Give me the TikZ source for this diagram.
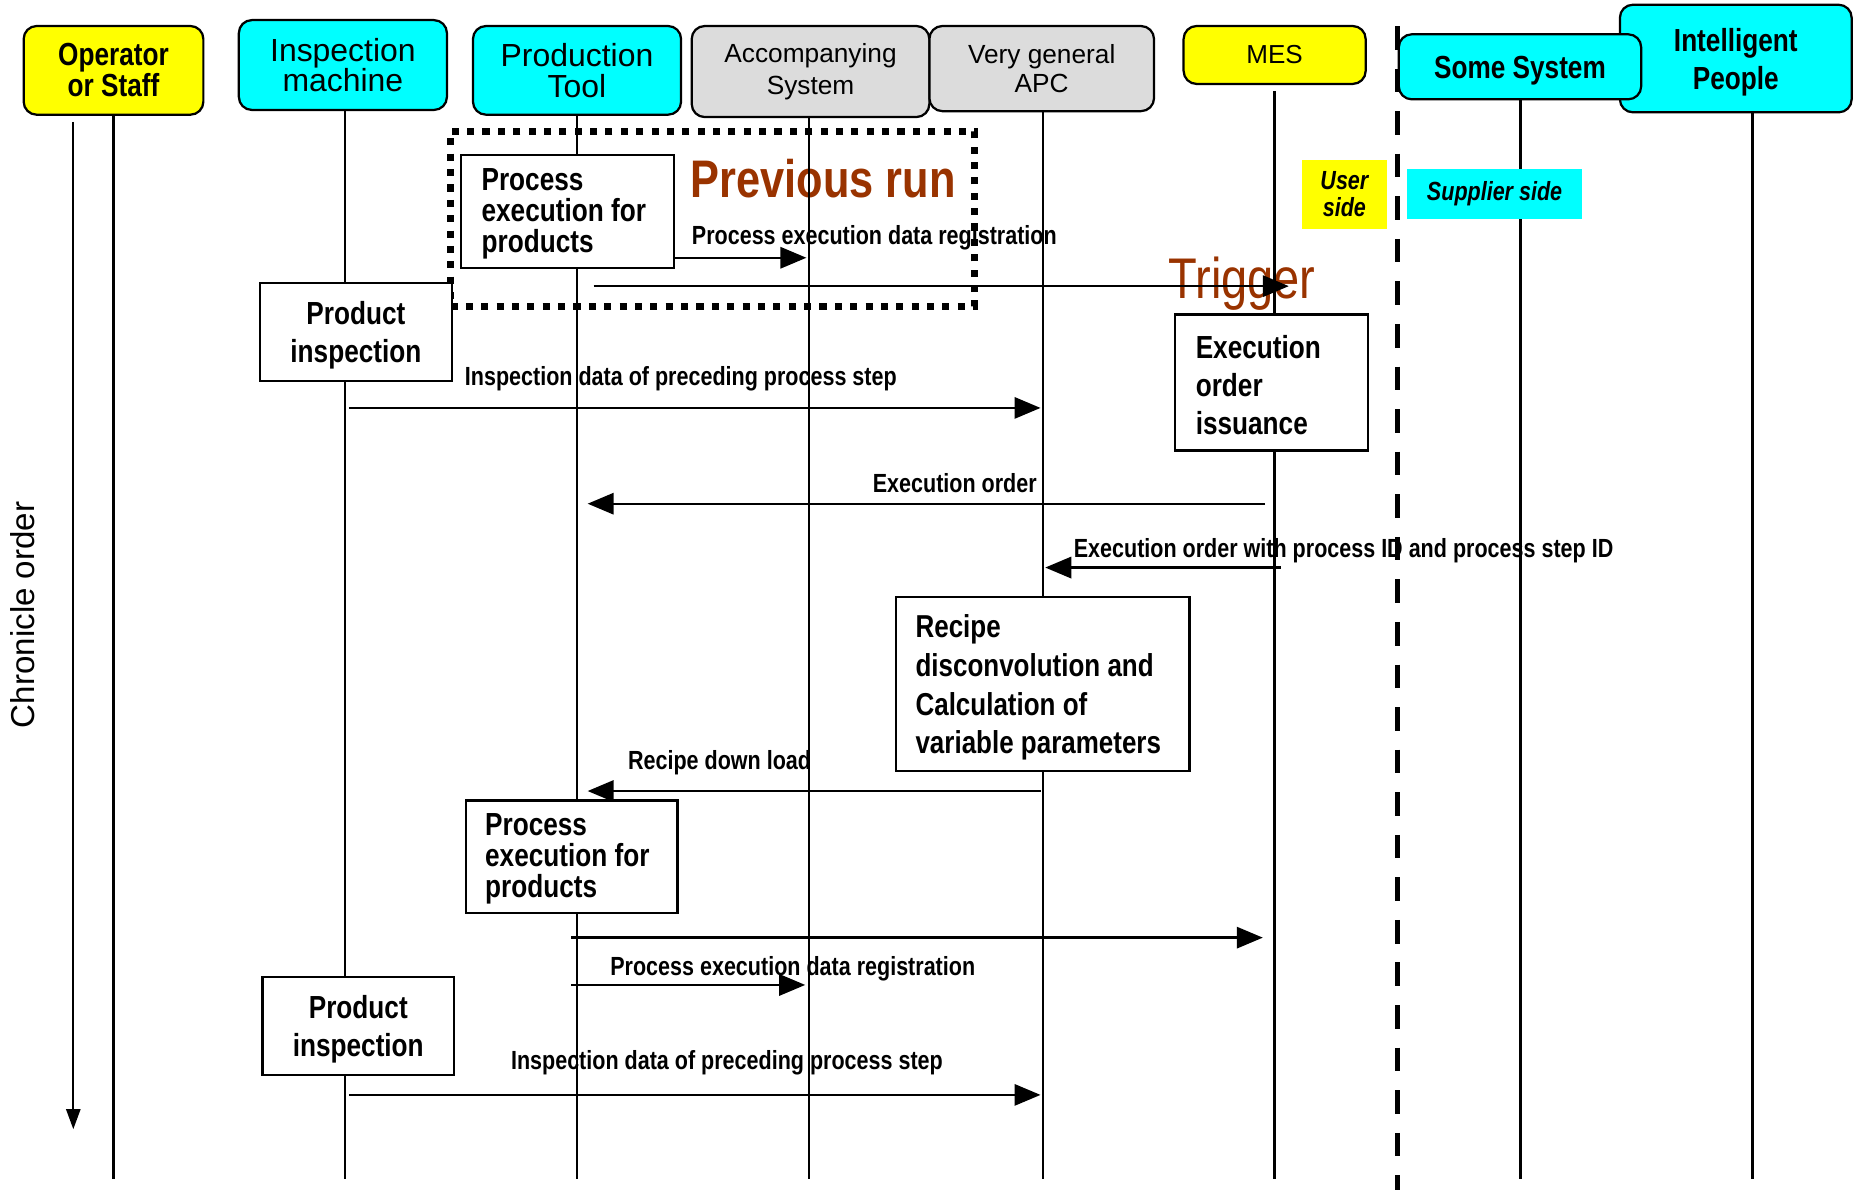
\documentclass[tikz,border=0pt]{standalone}
\usepackage{fontspec}
\setmainfont{Liberation Sans}
\newfontfamily\narrowsans{Liberation Sans}[FakeStretch=0.82]
\usetikzlibrary{arrows.meta}
\definecolor{hdryellow}{HTML}{FFFF00}
\definecolor{hdrcyan}{HTML}{00FFFF}
\definecolor{hdrgray}{HTML}{DCDCDC}
\definecolor{runbrown}{HTML}{993300}

\begin{document}
\begin{tikzpicture}[x=1pt,y=-1pt,
  hdrbox/.style={draw, line width=1.9pt, rounded corners=11pt, inner sep=0pt, align=center},
  nbold/.style={font=\narrowsans\bfseries\fontsize{27pt}{26pt}\selectfont},
  actbox/.style={draw, line width=1.8pt, fill=white, inner sep=0pt},
  acttext/.style={inner sep=0pt, align=left,
    font=\narrowsans\bfseries\fontsize{27pt}{26pt}\selectfont},
  lbl/.style={inner sep=0pt, font=\narrowsans\bfseries\fontsize{22.2pt}{24pt}\selectfont},
  bigword/.style={inner sep=0pt, text=runbrown},
  lifeline/.style={line width=2pt},
  msg/.style={line width=2pt, -{Triangle[length=22pt,width=18pt]}},
  tag/.style={inner sep=0pt, align=center, font=\narrowsans\bfseries\itshape\fontsize{22.2pt}{23pt}\selectfont}
]
\useasboundingbox (0,0) rectangle (1568,1006);

% ---------- free texts (drawn first, lines pass over them) ----------
\node[bigword, anchor=west, font=\narrowsans\bfseries\fontsize{44.7pt}{46pt}\selectfont]
  (prevlbl) at (584,151) {Previous run};
\node[bigword, anchor=west, font=\narrowsans\fontsize{48.5pt}{50pt}\selectfont]
  (triglbl) at (988,240) {Trigger};

\node[lbl, anchor=west] (l1) at (585,201) {Process execution data registration};
\node[lbl, anchor=west] (l2) at (393,320) {Inspection data of preceding process step};
\node[lbl, anchor=east] (l3) at (877,409) {Execution order};
\node[lbl, anchor=west] (l4) at (908,466) {Execution order with process ID and process step ID};
\node[lbl, anchor=west] (l5) at (531,645) {Recipe down load};
\node[lbl, anchor=west] (l6) at (516,819) {Process execution data registration};
\node[lbl, anchor=west] (l7) at (432,899) {Inspection data of preceding process step};

% ---------- time axis ----------
\node[rotate=90, inner sep=0pt, font=\fontsize{28pt}{30pt}\selectfont] (chron) at (19,520) {Chronicle order};
\coordinate (tStart) at (62,103);
\coordinate (tEnd) at (62,955);
\draw[line width=1.8pt, -{Triangle[length=17pt,width=12pt]}] (tStart) -- (tEnd);

% ---------- lifelines ----------
\foreach \lx/\ly in {96/97, 292/93, 488/97, 684/99, 882/94, 1078/77, 1286/84, 1482/95}
  \draw[lifeline] (\lx,\ly) -- (\lx,997);

% user / supplier divider
\draw[line width=4.5pt, dash pattern=on 20pt off 16pt] (1182,22) -- (1182,1006);

% ---------- participant headers ----------
\node[hdrbox, fill=hdryellow, nbold, minimum width=152pt, minimum height=75pt]
  (op) at (96,59.5) {Operator\\or Staff};
\node[hdrbox, fill=hdrcyan, minimum width=176pt, minimum height=76pt,
  font=\fontsize{27pt}{26pt}\selectfont] (insp) at (290,55) {Inspection\\machine};
\node[hdrbox, fill=hdrcyan, minimum width=176pt, minimum height=75pt,
  font=\fontsize{27pt}{26pt}\selectfont] (prod) at (488,59.5) {Production\\Tool};
\node[hdrbox, fill=hdrgray, minimum width=201pt, minimum height=77pt,
  font=\fontsize{22.2pt}{27pt}\selectfont] (acc) at (685.5,60.5) {Accompanying\\System};
\node[hdrbox, fill=hdrgray, minimum width=190pt, minimum height=72pt,
  font=\fontsize{22.2pt}{24pt}\selectfont] (apc) at (881,58) {Very general\\APC};
\node[hdrbox, fill=hdryellow, minimum width=154pt, minimum height=49pt,
  font=\fontsize{22pt}{24pt}\selectfont] (mes) at (1078,46.5) {MES};
\node[hdrbox, fill=hdrcyan, minimum width=196pt, minimum height=91pt] (ppl) at (1468,49.5) {};
\node[inner sep=0pt, align=center, font=\narrowsans\bfseries\fontsize{27pt}{32pt}\selectfont]
  (pplt) at ([yshift=-3pt]ppl.center) {Intelligent\\People};
\node[hdrbox, fill=hdrcyan, minimum width=205pt, minimum height=55pt] (sys) at (1285.5,56.5) {};
\node[inner sep=0pt, nbold] (syst) at ([yshift=-3pt]sys.center) {Some System};

% ---------- previous run frame ----------
\node[draw, line width=6pt, dash pattern=on 6pt off 7pt, minimum width=443pt,
  minimum height=148pt, inner sep=0pt] (prevrun) at (602.5,185) {};

% ---------- activity boxes ----------
\node[actbox, minimum width=180pt, minimum height=96pt] (exec1) at (480,179) {};
\node[acttext, anchor=west] (exec1t) at ([xshift=18pt, yshift=-2pt]exec1.west)
  {Process\\execution for\\products};

\node[actbox, minimum width=162pt, minimum height=83pt] (pi1) at (301,280.5) {};
\node[acttext, align=center, font=\narrowsans\bfseries\fontsize{27pt}{32pt}\selectfont]
  (pi1t) at ([yshift=-3pt]pi1.center) {Product\\inspection};

\node[actbox, minimum width=163pt, minimum height=115pt] (issue) at (1075.5,323.5) {};
\node[acttext, anchor=west, font=\narrowsans\bfseries\fontsize{27pt}{32pt}\selectfont]
  (issuet) at ([xshift=18pt, yshift=-2pt]issue.west) {Execution\\order\\issuance};

\node[actbox, minimum width=248pt, minimum height=147pt] (recipe) at (882,578.5) {};
\node[acttext, anchor=west, font=\narrowsans\bfseries\fontsize{26.8pt}{32.7pt}\selectfont]
  (recipet) at ([xshift=17pt, yshift=-3pt]recipe.west)
  {Recipe\\disconvolution and\\Calculation of\\variable parameters};

\node[actbox, minimum width=179pt, minimum height=95pt] (exec2) at (483.5,724.5) {};
\node[acttext, anchor=west] (exec2t) at ([xshift=17pt, yshift=-2pt]exec2.west)
  {Process\\execution for\\products};

\node[actbox, minimum width=162pt, minimum height=83pt] (pi2) at (303,867.5) {};
\node[acttext, align=center, font=\narrowsans\bfseries\fontsize{27pt}{32pt}\selectfont]
  (pi2t) at ([yshift=-3pt]pi2.center) {Product\\inspection};

% ---------- messages ----------
\coordinate (m1a) at (570,218);  \coordinate (m1b) at (682,218);
\coordinate (m2a) at (502,242);  \coordinate (m2b) at (1090,242);
\coordinate (m3a) at (295,345);  \coordinate (m3b) at (880,345);
\coordinate (m4a) at (1070,426); \coordinate (m4b) at (497,426);
\coordinate (m5a) at (1083,480); \coordinate (m5b) at (884,480);
\coordinate (m6a) at (880,669);  \coordinate (m6b) at (497,669);
\coordinate (m7a) at (483,793);  \coordinate (m7b) at (1068,793);
\coordinate (m8a) at (483,833);  \coordinate (m8b) at (681,833);
\coordinate (m9a) at (295,926);  \coordinate (m9b) at (880,926);
\foreach \m in {1,...,9}
  \draw[msg] (m\m a) -- (m\m b);

% ---------- side tags ----------
\node[tag, fill=hdryellow, minimum width=72pt, minimum height=59pt]
  (userside) at (1137,164.5) {User\\side};
\node[tag, fill=hdrcyan, minimum width=148pt, minimum height=42pt]
  (suppside) at (1264,164) {Supplier side};
\end{tikzpicture}
\end{document}
